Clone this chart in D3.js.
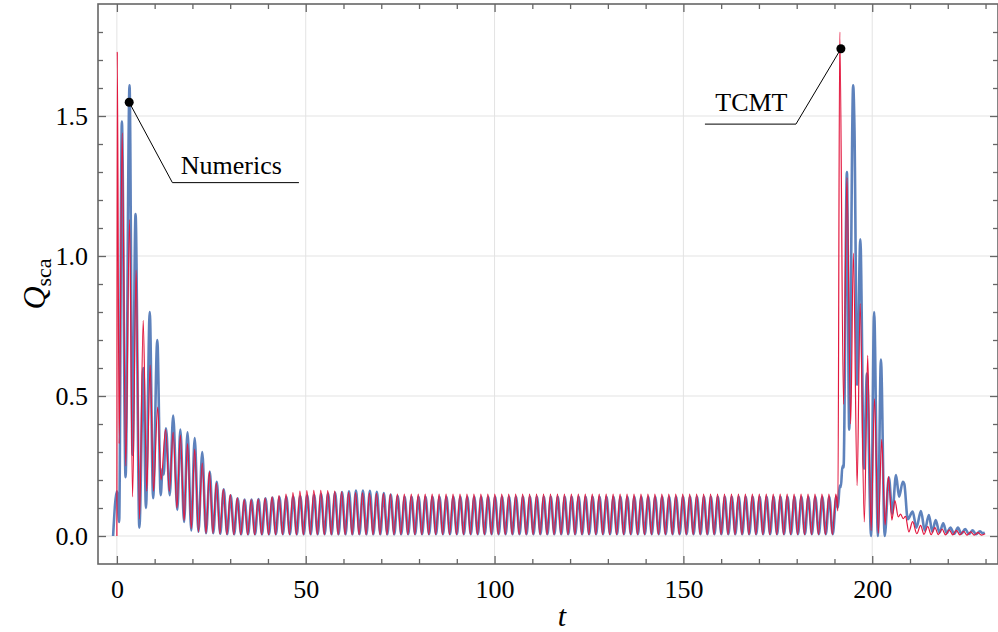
<!DOCTYPE html>
<html>
<head>
<meta charset="utf-8">
<script src="https://cdn.jsdelivr.net/npm/d3@7"></script>
<style>
body { margin: 0; background: #fff; }
svg { display: block; font-family: "Liberation Serif", "Times New Roman", serif; }
</style>
</head>
<body>
<svg id="chart" width="998" height="632"></svg>
<script>
// TCMT (red): first burst, then steady oscillation on a fixed period, then second burst
var tcmtHeadT = [0.0, 0.1, 0.6, 1.4, 2.35, 3.35, 4.15, 5.1, 6.0, 6.97, 7.9, 8.8, 9.7, 10.8, 11.7, 12.9, 13.9, 14.9, 15.9, 16.8, 17.8, 18.7, 19.7, 20.6, 21.6, 22.6, 23.6];
var tcmtHeadQ = [0.0, 1.73, 0.33, 1.44, 0.25, 1.13, 0.14, 0.95, 0.06, 0.77, 0.16, 0.61, 0.16, 0.46, 0.2, 0.38, 0.16, 0.37, 0.1, 0.36, 0.055, 0.33, 0.027, 0.31, 0.015, 0.26, 0.01];
var tcmtStart = 24.5, tcmtPeriod = 1.843;
var tcmtPeaks = [0.23,0.19,0.167,0.148,0.136,0.13,0.13,0.132,0.135,0.14,
  0.145,0.15,0.155,0.16,0.162,0.163,0.163,0.162,0.16,0.158,
  0.156,0.155,0.154,0.153,0.152,0.151,
  0.15,0.15,0.15,0.15,0.15,0.15,0.15,0.15,0.15,0.15,0.15,0.15,0.15,
  0.15,0.15,0.15,0.15,0.15,0.15,0.15,0.15,0.15,0.15,0.15,0.15,0.15,
  0.15,0.15,0.15,0.15,0.15,0.15,0.15,0.15,0.15,0.15,0.15,0.15,0.15,
  0.15,0.15,0.15,0.15,0.15,0.15,0.15,0.15,0.15,0.15,0.15,0.15,0.15,
  0.15,0.15,0.15,0.15,0.15,0.15,0.15,0.15,0.15,0.15,0.15,0.15,0.15];
var tcmtTroughs = [0.01,0.008,0.006,0.005,0.005,0.005,0.005,0.005,0.005,0.005,
  0.005,0.005,0.005,0.005,0.005,0.005,0.005,0.005,0.005,0.005,
  0.005,0.005,0.005,0.005,0.005,0.005,0.005,0.005,0.005,0.005,
  0.005,0.005,0.005,0.005,0.005,0.005,0.005,0.005,0.005,0.005,
  0.005,0.005,0.005,0.005,0.005,0.005,0.005,0.005,0.005,0.005,
  0.005,0.005,0.005,0.005,0.005,0.005,0.005,0.005,0.005,0.005,
  0.005,0.005,0.005,0.005,0.005,0.005,0.005,0.005,0.005,0.005,
  0.005,0.005,0.005,0.005,0.005,0.005,0.005,0.005,0.005,0.005,
  0.005,0.005,0.005,0.005,0.005,0.005,0.005,0.005,0.005,0.005];
var tcmtTailT = [190.9, 191.4, 192.4, 193.3, 194.3, 195.0, 196.0, 196.8, 197.9, 198.8, 199.7, 200.6, 201.6, 202.5, 203.4, 204.3, 205.2, 206.0, 206.9, 207.5, 208.2, 208.8, 209.7, 210.7, 211.8, 212.8, 213.7, 214.7, 215.6, 216.6, 217.5, 218.5, 219.4, 220.4, 221.3, 222.3, 223.2, 224.2, 225.1, 226.1, 227.0, 228.0, 228.9, 229.9];
var tcmtTailQ = [0.09, 1.80, 0.47, 1.28, 0.40, 1.01, 0.18, 0.83, 0.05, 0.645, 0.02, 0.49, 0.01, 0.345, 0.04, 0.212, 0.057, 0.126, 0.068, 0.078, 0.062, 0.07, 0.015, 0.051, 0.008, 0.038, 0.006, 0.034, 0.005, 0.03, 0.005, 0.025, 0.004, 0.022, 0.004, 0.02, 0.004, 0.017, 0.003, 0.015, 0.003, 0.012, 0.003, 0.008];

// Numerics (blue)
var numHeadT = [-1.0, 0.0, 0.6, 1.32, 2.3, 3.35, 4.15, 4.94, 5.95, 7.0, 7.7, 8.7, 9.6, 10.7, 11.6, 12.1, 12.4, 13.0, 14.0, 14.9, 16.0, 16.8, 17.8, 18.7, 19.7, 20.6, 21.6, 22.6, 23.6];
var numHeadQ = [0.0, 0.16, 0.05, 1.48, 0.21, 1.61, 0.29, 1.15, 0.03, 0.60, 0.10, 0.80, 0.135, 0.70, 0.146, 0.24, 0.22, 0.385, 0.146, 0.43, 0.093, 0.38, 0.05, 0.37, 0.02, 0.35, 0.015, 0.30, 0.01];
var numStart = 24.6, numPeriod = 1.843;
var numPeaks = [0.23,0.194,0.167,0.145,0.135,0.13,0.13,0.132,0.135,0.137,
  0.139,0.14,0.141,0.143,0.145,0.147,0.15,0.152,0.155,0.157,
  0.16,0.162,0.162,0.161,0.158,0.153,0.148,0.143,
  0.14,0.14,0.14,0.14,0.14,0.14,0.14,0.14,0.14,
  0.14,0.14,0.14,0.14,0.14,0.14,0.14,0.14,0.14,
  0.14,0.14,0.14,0.14,0.14,0.14,0.14,0.14,0.14,
  0.14,0.14,0.14,0.14,0.14,0.14,0.14,0.14,0.14,
  0.14,0.14,0.14,0.14,0.14,0.14,0.14,0.14,0.14,
  0.14,0.14,0.14,0.14,0.14,0.14,0.14,0.14,0.14,
  0.14,0.14,0.14,0.14,0.14,0.14,0.14,0.14,0.14];
var numTroughs = [0.01,0.008,0.006,0.006,0.006,0.006,0.006,0.006,0.006,0.006,
  0.006,0.006,0.006,0.006,0.006,0.006,0.006,0.006,0.006,0.006,
  0.006,0.006,0.006,0.006,0.006,0.006,0.006,0.006,0.006,0.006,
  0.006,0.006,0.006,0.006,0.006,0.006,0.006,0.006,0.006,0.006,
  0.006,0.006,0.006,0.006,0.006,0.006,0.006,0.006,0.006,0.006,
  0.006,0.006,0.006,0.006,0.006,0.006,0.006,0.006,0.006,0.006,
  0.006,0.006,0.006,0.006,0.006,0.006,0.006,0.006,0.006,0.006,
  0.006,0.006,0.006,0.006,0.006,0.006,0.006,0.006,0.006,0.006,
  0.006,0.006,0.006,0.006,0.006,0.006,0.006,0.006,0.006,0.006];
var numTailT = [190.9, 191.4, 191.7, 192.1, 192.4, 193.3, 193.9, 194.95, 195.3, 196.0, 196.85, 197.8, 198.6, 199.7, 200.5, 201.5, 202.3, 203.3, 204.4, 205.3, 206.3, 207.1, 208.1, 208.5, 209.4, 210.7, 211.7, 212.9, 213.9, 215.0, 215.9, 216.8, 217.8, 218.8, 219.7, 220.7, 221.7, 222.7, 223.6, 224.6, 225.6, 226.6, 227.5, 228.5, 229.2, 229.8];
var numTailQ = [0.10, 0.18, 0.175, 0.25, 0.245, 1.30, 0.38, 1.61, 1.45, 0.54, 1.06, 0.24, 0.58, 0.0, 0.80, 0.0, 0.63, 0.0, 0.21, 0.08, 0.218, 0.14, 0.194, 0.185, 0.06, 0.087, 0.03, 0.089, 0.02, 0.075, 0.015, 0.057, 0.012, 0.045, 0.01, 0.03, 0.008, 0.03, 0.008, 0.025, 0.007, 0.02, 0.006, 0.017, 0.01, 0.012];

var xMajor = [0, 50, 100, 150, 200];
var xMinor = [10, 20, 30, 40, 60, 70, 80, 90, 110, 120, 130, 140, 160, 170, 180, 190, 210, 220, 230];
var yMajor = [0, 0.5, 1.0, 1.5];
var yMinor = [0.1, 0.2, 0.3, 0.4, 0.6, 0.7, 0.8, 0.9, 1.1, 1.2, 1.3, 1.4, 1.6, 1.7, 1.8];

// callouts: marked point, elbow, end of the shelf, label
var notes = [
  { text: "Numerics", pt: [3.26, 1.549], elbow: [14.7, 1.262], end: [48.2, 1.262], at: [30.3, 1.293] },
  { text: "TCMT", pt: [191.7, 1.74], elbow: [179.8, 1.471], end: [155.7, 1.471], at: [168.0, 1.518] }
];

function buildSeries(headT, headQ, start, period, peaks, troughs, tailT, tailQ) {
    var pts = [];
    for (var i = 0; i < headT.length; i++) pts.push({ t: headT[i], q: headQ[i] });
    for (var k = 0; k < peaks.length; k++) {
        pts.push({ t: start + k * period, q: peaks[k] });
        if (k < troughs.length) pts.push({ t: start + (k + 0.5) * period, q: troughs[k] });
    }
    for (var j = 0; j < tailT.length; j++) pts.push({ t: tailT[j], q: tailQ[j] });
    return pts;
}

var tcmt = buildSeries(tcmtHeadT, tcmtHeadQ, tcmtStart, tcmtPeriod, tcmtPeaks, tcmtTroughs, tcmtTailT, tcmtTailQ);
var numerics = buildSeries(numHeadT, numHeadQ, numStart, numPeriod, numPeaks, numTroughs, numTailT, numTailQ);

var L = 98, R = 998, T = 4, B = 564;
var svg = d3.select("#chart");
var x = d3.scaleLinear().domain([-5, 233.3]).range([L, R]);
var y = d3.scaleLinear().domain([-0.1, 1.9]).range([B, T]);

svg.append("defs").append("clipPath").attr("id", "plotclip")
    .append("rect").attr("x", L).attr("y", T).attr("width", R - L).attr("height", B - T);

// grid
var grid = svg.append("g").attr("stroke", "#e3e3e3").attr("stroke-width", 1);
grid.selectAll(".gx").data(xMajor).enter().append("line")
    .attr("x1", function(d){ return x(d) }).attr("x2", function(d){ return x(d) })
    .attr("y1", T).attr("y2", B);
grid.selectAll(".gy").data(yMajor).enter().append("line")
    .attr("x1", L).attr("x2", R)
    .attr("y1", function(d){ return y(d) }).attr("y2", function(d){ return y(d) });

var line = d3.line()
    .x(function(d){ return x(d.t) })
    .y(function(d){ return y(d.q) })
    .curve(d3.curveMonotoneX);

var plot = svg.append("g").attr("clip-path", "url(#plotclip)");
plot.append("path").datum(numerics)
    .attr("d", line).attr("fill", "none")
    .attr("stroke", "#5077b6").attr("stroke-opacity", 0.92).attr("stroke-width", 2.6)
    .attr("stroke-linejoin", "round");
plot.append("path").datum(tcmt)
    .attr("d", line).attr("fill", "none")
    .attr("stroke", "#e3173e").attr("stroke-width", 1.2)
    .attr("stroke-linejoin", "round");

// ticks on all four sides, pointing inward
function addTicks(axis, tr, values, size, labels) {
    var g = svg.append("g").attr("transform", tr)
        .call(axis.tickValues(values).tickSize(-size).tickSizeOuter(0));
    g.select(".domain").remove();
    g.selectAll(".tick line").attr("stroke", "#666").attr("stroke-width", 1.3);
    if (!labels) g.selectAll(".tick text").remove();
    return g;
}

var fmtY = d3.format(".1f");
var gx = addTicks(d3.axisBottom(x).tickPadding(16), "translate(0," + B + ")", xMajor, 8, true);
gx.selectAll(".tick text").attr("font-size", 26).attr("fill", "#000")
    .attr("font-family", "Liberation Serif");
addTicks(d3.axisBottom(x), "translate(0," + B + ")", xMinor, 5, false);
addTicks(d3.axisTop(x), "translate(0," + T + ")", xMajor, 8, false);
addTicks(d3.axisTop(x), "translate(0," + T + ")", xMinor, 5, false);

var gy = addTicks(d3.axisLeft(y).tickPadding(10).tickFormat(fmtY), "translate(" + L + ",0)", yMajor, 8, true);
gy.selectAll(".tick text").attr("font-size", 26).attr("fill", "#000")
    .attr("font-family", "Liberation Serif");
addTicks(d3.axisLeft(y), "translate(" + L + ",0)", yMinor, 5, false);
addTicks(d3.axisRight(y), "translate(" + R + ",0)", yMajor, 8, false);
addTicks(d3.axisRight(y), "translate(" + R + ",0)", yMinor, 5, false);

// frame
svg.append("rect").attr("x", L).attr("y", T).attr("width", R - L).attr("height", B - T)
    .attr("fill", "none").attr("stroke", "#666").attr("stroke-width", 1.6);

// callouts
notes.forEach(function(n) {
    svg.append("polyline")
        .attr("points", [n.pt, n.elbow, n.end].map(function(p){ return x(p[0]) + "," + y(p[1]) }).join(" "))
        .attr("fill", "none").attr("stroke", "#000").attr("stroke-width", 1);
    svg.append("circle").attr("cx", x(n.pt[0])).attr("cy", y(n.pt[1])).attr("r", 4.5).attr("fill", "#000");
    svg.append("text").attr("x", x(n.at[0])).attr("y", y(n.at[1]))
        .attr("text-anchor", "middle").attr("font-size", 26).attr("fill", "#000")
        .text(n.text);
});

// axis titles
svg.append("text").attr("x", 562).attr("y", 626)
    .attr("text-anchor", "middle").attr("font-size", 30).attr("font-style", "italic")
    .text("t");

var yl = svg.append("text")
    .attr("transform", "translate(45,284) rotate(-90)")
    .attr("text-anchor", "middle");
yl.append("tspan").attr("font-size", 32).attr("font-style", "italic").text("Q");
yl.append("tspan").attr("font-size", 22).attr("dy", 6).text("sca");
</script>
</body>
</html>
